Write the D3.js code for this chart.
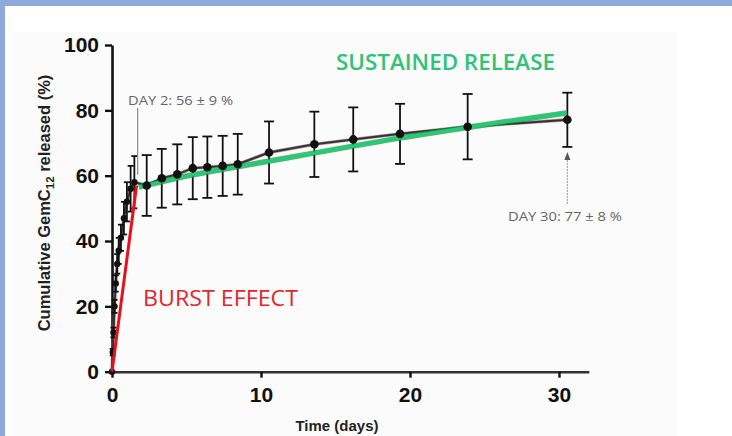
<!DOCTYPE html>
<html><head><meta charset="utf-8">
<script src="https://cdn.jsdelivr.net/npm/d3@7/dist/d3.min.js"></script>
<style>body{margin:0;background:#fff;}svg{display:block;}</style>
</head><body>
<svg id="c" width="732" height="436"></svg>
<script>
// ---- data ----
const days    = [0, 0.05, 0.1, 0.17, 0.25, 0.35, 0.45, 0.6, 0.8, 1.0, 1.25, 1.5, 2.33, 3.34, 4.38, 5.42, 6.4, 7.43, 8.44, 10.54, 13.58, 16.19, 19.33, 23.87, 30.56];
const release = [0, 6, 12, 20, 27, 33, 37, 41, 47, 52, 56, 58, 57, 59.2, 60.4, 62.3, 62.6, 63, 63.5, 67.1, 69.6, 71.1, 72.8, 75, 77.1];
const errSD   = [0, 1, 1.5, 2, 2.5, 3, 4, 4, 5, 6, 7, 8, 9.3, 9, 9.2, 9.5, 9.4, 9.2, 9.3, 9.5, 10, 9.8, 9.2, 10, 8.3];
const burstDays = [0, 1.65];
const burstVals = [0, 57];
const sustDays  = [1.8, 4.4, 10.5, 19.3, 30.5];
const sustVals  = [56.5, 59.3, 64.4, 71.5, 79.2];
const xTicks = [0, 10, 20, 30];
const yTicks = [0, 20, 40, 60, 80, 100];

const svg = d3.select("#c");
// frame
svg.append("rect").attr("x",0).attr("y",0).attr("width",732).attr("height",436).attr("fill","#fff");
svg.append("rect").attr("x",12).attr("y",32).attr("width",665).attr("height",404).attr("fill","#fbfbfb");
svg.append("rect").attr("x",0).attr("y",0).attr("width",732).attr("height",6).attr("fill","#8eaadb");
svg.append("rect").attr("x",0).attr("y",0).attr("width",5).attr("height",436).attr("fill","#8eaadb");

const x = d3.scaleLinear().domain([0, 32]).range([112, 588.8]);
const y = d3.scaleLinear().domain([0, 100]).range([371.7, 45]);

// axes
const fontAx = "'Liberation Sans', Arial, sans-serif";
const gy = svg.append("g").attr("transform","translate(112,0)")
  .call(d3.axisLeft(y).tickValues(yTicks).tickSize(7).tickPadding(6).tickSizeOuter(0));
const gx = svg.append("g").attr("transform","translate(0,371.7)")
  .call(d3.axisBottom(x).tickValues(xTicks).tickSize(6).tickPadding(9).tickSizeOuter(0));
[gx, gy].forEach(g => {
  g.select(".domain").attr("stroke","#111").attr("stroke-width",2.6);
  g.selectAll(".tick line").attr("stroke","#111").attr("stroke-width",2.4);
  g.selectAll(".tick text").attr("fill","#111").attr("font-family",fontAx)
   .attr("font-weight","bold").attr("font-size",21);
});
gx.select(".domain").attr("stroke","#333");

// axis titles
svg.append("text").attr("x",337).attr("y",431).attr("text-anchor","middle")
  .attr("font-family",fontAx).attr("font-weight","bold").attr("font-size",15).attr("fill","#222")
  .text("Time (days)");
const yl = svg.append("text").attr("transform","translate(50,203) rotate(-90)").attr("text-anchor","middle")
  .attr("font-family",fontAx).attr("font-weight","bold").attr("font-size",16.5).attr("fill","#222");
yl.append("tspan").text("Cumulative GemC");
yl.append("tspan").attr("font-size",11.5).attr("dy",4).text("12");
yl.append("tspan").attr("dy",-4).text(" released (%)");

// data line
const pts = days.map((d,i)=>({d, v:release[i], e:errSD[i]}));
const line = d3.line().x(p=>x(p.d)).y(p=>y(p.v));
svg.append("path").datum(pts).attr("d",line).attr("fill","none")
  .attr("stroke","#8a5a5a").attr("stroke-width",3.4).attr("opacity",0.6);
svg.append("path").datum(pts).attr("d",line).attr("fill","none")
  .attr("stroke","#333").attr("stroke-width",2);

// error bars
const eb = svg.append("g").attr("stroke","#111").attr("stroke-width",1.8);
pts.filter(p=>p.e>0).forEach(p=>{
  const cx = x(p.d), cap = p.d > 2 ? 5 : 3;
  eb.append("line").attr("x1",cx).attr("x2",cx).attr("y1",y(p.v+p.e)).attr("y2",y(p.v-p.e));
  eb.append("line").attr("x1",cx-cap).attr("x2",cx+cap).attr("y1",y(p.v+p.e)).attr("y2",y(p.v+p.e));
  eb.append("line").attr("x1",cx-cap).attr("x2",cx+cap).attr("y1",y(p.v-p.e)).attr("y2",y(p.v-p.e));
});

// sustained release fit
const sust = sustDays.map((d,i)=>({d, v:sustVals[i]}));
const sline = d3.line().x(p=>x(p.d)).y(p=>y(p.v)).curve(d3.curveMonotoneX);
svg.append("path").datum(sust).attr("d",sline).attr("fill","none")
  .attr("stroke","#14924f").attr("stroke-width",5.5).attr("opacity",0.7);
svg.append("path").datum(sust).attr("d",sline).attr("fill","none")
  .attr("stroke","#22cc70").attr("stroke-width",3.2);

// dots
svg.append("g").selectAll("circle").data(pts).join("circle")
  .attr("cx",p=>x(p.d)).attr("cy",p=>y(p.v)).attr("r",p=>p.d>2?4.3:3.2).attr("fill","#111");

// burst line
const burst = burstDays.map((d,i)=>({d, v:burstVals[i]}));
svg.append("path").datum(burst).attr("d",line).attr("fill","none")
  .attr("stroke","#e8101c").attr("stroke-width",3);

// annotations
const fontLbl = "'Open Sans', 'DejaVu Sans', sans-serif";
svg.append("text").attr("x",336).attr("y",70)
  .attr("font-family",fontLbl).attr("font-weight",600).attr("font-size",21).attr("fill","#30c277")
  .attr("textLength",219).attr("lengthAdjust","spacingAndGlyphs").text("SUSTAINED RELEASE");
svg.append("text").attr("x",143).attr("y",306)
  .attr("font-family",fontLbl).attr("font-weight",400).attr("font-size",21).attr("fill","#e3262c")
  .attr("textLength",155).attr("lengthAdjust","spacingAndGlyphs").text("BURST EFFECT");
svg.append("text").attr("x",128).attr("y",105)
  .attr("font-family",fontLbl).attr("font-size",13).attr("fill","#666")
  .attr("textLength",105).attr("lengthAdjust","spacingAndGlyphs").text("DAY 2: 56 ± 9 %");
svg.append("line").attr("x1",137.7).attr("x2",137.7).attr("y1",108).attr("y2",175)
  .attr("stroke","#777").attr("stroke-width",1);
svg.append("text").attr("x",508).attr("y",221)
  .attr("font-family",fontLbl).attr("font-size",13).attr("fill","#666")
  .attr("textLength",114).attr("lengthAdjust","spacingAndGlyphs").text("DAY 30: 77 ± 8 %");
svg.append("line").attr("x1",x(30.56)).attr("x2",x(30.56)).attr("y1",204).attr("y2",158)
  .attr("stroke","#999").attr("stroke-width",1).attr("stroke-dasharray","2,1");
svg.append("path").attr("d",`M${x(30.56)-3},160 L${x(30.56)+3},160 L${x(30.56)},152 Z`).attr("fill","#555");
</script>
</body></html>
